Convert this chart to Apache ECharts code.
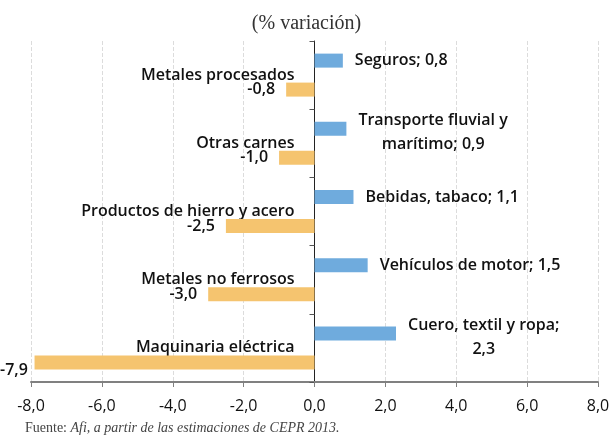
<!DOCTYPE html>
<html>
<head>
<meta charset="utf-8">
<script src="https://cdn.jsdelivr.net/npm/echarts@6/dist/echarts.min.js"></script>
<style>
html, body { margin: 0; padding: 0; background: #fff; }
#main { width: 613px; height: 436px; }
</style>
</head>
<body>
<div id="main"></div>
<script>
// categorias (barras naranjas, etiquetas del eje) y valores
var negNames = ['Metales procesados', 'Otras carnes', 'Productos de hierro y acero', 'Metales no ferrosos', 'Maquinaria eléctrica'];
var negValues = [-0.8, -1.0, -2.5, -3.0, -7.9];
// barras azules: nombre de la etiqueta (con salto de linea donde lo lleva) y valor
var posNames = ['Seguros;', 'Transporte fluvial y\nmarítimo;', 'Bebidas, tabaco;', 'Vehículos de motor;', 'Cuero, textil y ropa;\n'];
var posValues = [0.8, 0.9, 1.1, 1.5, 2.3];
var xTicks = [-8, -6, -4, -2, 0, 2, 4, 6, 8];

var FONT = '"Open Sans", sans-serif';
var SERIF = '"Liberation Serif", "DejaVu Serif", serif';
var LBL_SIZE = 16;
var W = 613, GL = 31, GR = 15;

function fmt(v) {
  return v.toFixed(1).replace('.', ',');
}

var posData = posValues.map(function (v, i) {
  var txt = posNames[i] + (posNames[i].slice(-1) === '\n' ? '' : ' ') + fmt(v);
  var item = { value: v, label: { formatter: txt } };
  if (txt.indexOf('\n') >= 0) {
    item.label.align = 'center';
  }
  return item;
});

// eje de categorias sobre el cero del eje x
var xMin = xTicks[0], xMax = xTicks[xTicks.length - 1];
var zeroOffset = -(W - GL - GR) * (0 - xMin) / (xMax - xMin);

var myChart = echarts.init(document.getElementById('main'));
var option = {
  backgroundColor: '#fff',
  animation: false,
  title: [{
    text: '(% variación)',
    left: 'center',
    top: 9,
    textStyle: { fontFamily: SERIF, fontSize: 20, fontWeight: 'normal', color: '#333' }
  }, {
    text: '{a|Fuente: }{b|Afi, a partir de las estimaciones de CEPR 2013.}',
    left: 20,
    top: 416,
    textStyle: {
      rich: {
        a: { fontFamily: SERIF, fontSize: 14, fontWeight: 'normal', color: '#444' },
        b: { fontFamily: SERIF, fontSize: 14, fontWeight: 'normal', color: '#444', fontStyle: 'italic' }
      }
    }
  }],
  grid: { left: GL, right: GR, top: 41, bottom: 54, containLabel: false, outerBoundsMode: 'none' },
  xAxis: {
    type: 'value',
    min: xMin,
    max: xMax,
    interval: 2,
    axisLine: { show: true, onZero: false, lineStyle: { color: '#808080', width: 2 } },
    axisTick: { show: true, length: 5, lineStyle: { color: '#808080', width: 1 } },
    axisLabel: {
      margin: 16,
      fontSize: 16,
      fontFamily: FONT,
      color: '#111',
      formatter: function (v) { return fmt(v); }
    },
    splitLine: { show: true, lineStyle: { type: 'dashed', color: '#dcdcdc' } }
  },
  yAxis: {
    type: 'category',
    data: negNames,
    inverse: true,
    offset: zeroOffset,
    axisLine: { show: true, onZero: false, lineStyle: { color: '#222', width: 1 } },
    axisTick: { show: true, length: 5, lineStyle: { color: '#555' } },
    axisLabel: { margin: 20, fontSize: LBL_SIZE, fontWeight: 600, fontFamily: FONT, color: '#111' },
    splitLine: { show: false }
  },
  series: [{
    name: 'pos',
    type: 'bar',
    data: posData,
    barWidth: 14,
    barGap: '107%',
    itemStyle: { color: '#6fabdd' },
    label: {
      show: true,
      position: 'right',
      distance: 12,
      fontSize: LBL_SIZE,
      fontWeight: 600,
      fontFamily: FONT,
      color: '#111',
      lineHeight: 24
    }
  }, {
    name: 'neg',
    type: 'bar',
    data: negValues,
    barWidth: 14,
    barGap: '107%',
    itemStyle: { color: '#f5c46f' },
    label: {
      show: true,
      position: 'left',
      distance: 11,
      fontSize: LBL_SIZE,
      fontWeight: 600,
      fontFamily: FONT,
      color: '#111',
      formatter: function (p) { return fmt(p.value); }
    }
  }],
  labelLayout: function (params) {
    // etiquetas de dos lineas: centradas a la derecha de la barra
    if (params.seriesIndex === 0 && params.text.indexOf('\n') >= 0) {
      return { dx: params.labelRect.width / 2, dy: 4 };
    }
    // que la etiqueta no se salga por la izquierda
    if (params.labelRect.x < 0) {
      return { x: 0, align: 'left' };
    }
  }
};
myChart.setOption(option);
</script>
</body>
</html>
